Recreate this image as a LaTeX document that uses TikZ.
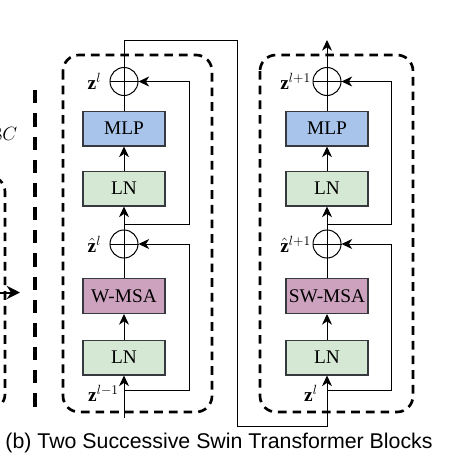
\documentclass[tikz,border=0pt]{standalone}
\usepackage{fontspec}
\setmainfont{Liberation Serif}
\setsansfont{Liberation Sans}
\usepackage{xcolor}
\definecolor{mlpblue}{HTML}{A9C4EB}
\definecolor{lngreen}{HTML}{D5E8D4}
\definecolor{msapink}{HTML}{CDA2BE}
\definecolor{edgegray}{HTML}{36393D}
\usepackage{tikz}
\usetikzlibrary{arrows.meta, positioning, calc}
\usepackage{amsmath, amssymb}

\tikzset{
  layerbox/.style={draw=edgegray, line width=1pt, minimum width=61.5pt,
                   minimum height=26pt, inner sep=0pt,
                   font=\fontsize{14.5}{16}\selectfont},
  adder/.style={draw, circle, minimum size=21pt, inner sep=0pt, line width=0.75pt},
  flow/.style={line width=0.75pt, -{Stealth[length=8pt, width=7.5pt, inset=2.5pt]}},
  plainline/.style={line width=0.75pt},
  blockframe/.style={line width=2pt, dash pattern=on 6.5pt off 4.5pt, rounded corners=12pt},
  zlabel/.style={font=\fontsize{14.5}{16}\selectfont, inner sep=0pt},
}

\begin{document}
\begin{tikzpicture}[x=0.75pt, y=-0.75pt]
    \useasboundingbox (0,0) rectangle (456,464);
    \clip (0,0) rectangle (456,464);

    % what is left of the stage part, cut at the border
    \node[anchor=east, font=\fontsize{15}{17}\selectfont] (dimtext) at (22,134) {$8C$};
    \draw[blockframe] (-150,176) rectangle (5,410);
    \coordinate (stagein) at (-10,292.5);
    \coordinate (stageout) at (20,292.5);
    \draw[line width=1.5pt, -{Stealth[length=10pt, width=10pt]}] (stagein) -- (stageout);
    \coordinate (septop) at (35,90);
    \coordinate (sepbot) at (35,416);
    \draw[line width=3pt, dash pattern=on 10pt off 7.5pt] (septop) -- (sepbot);

    % first block
    \draw[blockframe] (63,55) rectangle (212,412);
    \node[layerbox, fill=lngreen] (lnA) at (124,357.5) {LN};
    \node[layerbox, fill=msapink] (wmsa) at (124,296) {W-MSA};
    \node[adder] (addA) at (124,244) {};
    \node[layerbox, fill=lngreen] (lnB) at (124,188.5) {LN};
    \node[layerbox, fill=mlpblue] (mlpA) at (124,128.5) {MLP};
    \node[adder] (addB) at (124,81.5) {};

    \node[zlabel, anchor=east] (zinA) at (119,393) {$\mathbf{z}^{l-1}$};
    \node[zlabel, left=6pt of addA] (zhatA) {$\hat{\mathbf{z}}^{l}$};
    \node[zlabel, left=6pt of addB] (zoutA) {$\mathbf{z}^{l}$};

    \coordinate (inA) at (124,418);
    \coordinate (resA) at (124,390.5);
    \coordinate (resB) at (124,224);
    \draw[flow] (inA) -- (lnA);
    \draw[flow] (lnA) -- (wmsa);
    \draw[plainline] (wmsa) -- (addA);
    \draw[flow] (addA) -- (lnB);
    \draw[flow] (lnB) -- (mlpA);
    \draw[plainline] (mlpA) -- (addB);
    \draw[plainline] (addA.north) -- (addA.south) (addA.west) -- (addA.east);
    \draw[plainline] (addB.north) -- (addB.south) (addB.west) -- (addB.east);
    \draw[flow] (resA) -- ++(65,0) |- (addA);
    \draw[flow] (resB) -- ++(65,0) |- (addB);

    % from the first block into the second
    \coordinate (topA) at (124,40);
    \coordinate (turnA) at (237,40);
    \coordinate (turnB) at (237,426);
    \coordinate (inC) at (327,426);

    % second block
    \draw[blockframe] (260,55) rectangle (413,412);
    \node[layerbox, fill=lngreen] (lnC) at (327,357.5) {LN};
    \node[layerbox, fill=msapink] (swmsa) at (327,296) {SW-MSA};
    \node[adder] (addC) at (327,244) {};
    \node[layerbox, fill=lngreen] (lnD) at (327,188.5) {LN};
    \node[layerbox, fill=mlpblue] (mlpB) at (327,128.5) {MLP};
    \node[adder] (addD) at (327,81.5) {};

    \node[zlabel, anchor=east] (zinC) at (318,393) {$\mathbf{z}^{l}$};
    \node[zlabel, left=1pt of addC] (zhatC) {$\hat{\mathbf{z}}^{l+1}$};
    \node[zlabel, left=1pt of addD] (zoutC) {$\mathbf{z}^{l+1}$};

    \draw[flow] (addB.north) -- (topA) -- (turnA) -- (turnB) -- (inC) -- (lnC);

    \coordinate (resC) at (327,390.5);
    \coordinate (resD) at (327,224);
    \coordinate (outD) at (327,40);
    \draw[flow] (lnC) -- (swmsa);
    \draw[plainline] (swmsa) -- (addC);
    \draw[flow] (addC) -- (lnD);
    \draw[flow] (lnD) -- (mlpB);
    \draw[plainline] (mlpB) -- (addD);
    \draw[plainline] (addC.north) -- (addC.south) (addC.west) -- (addC.east);
    \draw[plainline] (addD.north) -- (addD.south) (addD.west) -- (addD.east);
    \draw[flow] (resC) -- ++(64,0) |- (addC);
    \draw[flow] (resD) -- ++(64,0) |- (addD);
    \draw[flow] (addD.north) -- (outD);

    \node[font=\sffamily\fontsize{16}{18}\selectfont] (caption) at (219,443)
      {(b) Two Successive Swin Transformer Blocks};
\end{tikzpicture}
\end{document}
